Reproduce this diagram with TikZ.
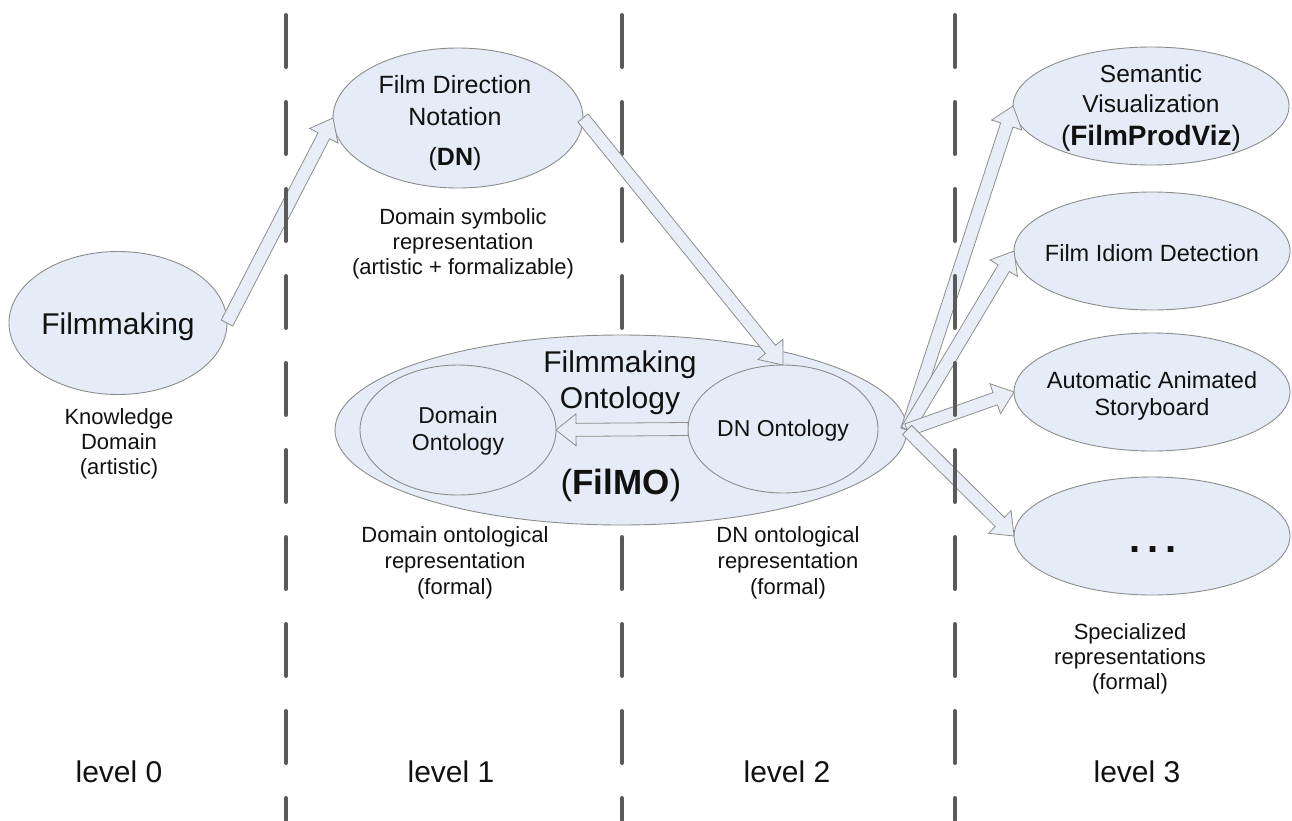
\documentclass[tikz,border=0pt]{standalone}
\usepackage{fontspec}
\setmainfont{Liberation Sans}
\usetikzlibrary{shapes.geometric,calc}

\definecolor{ellfill}{HTML}{E6ECF7}
\definecolor{ellline}{HTML}{8C8C8C}
\definecolor{arrfill}{HTML}{E8EDF8}
\definecolor{arrline}{HTML}{8E8E8E}
\definecolor{sepline}{HTML}{5A5A5A}
\definecolor{inktext}{HTML}{111111}

\newcommand{\fsz}[2]{\fontsize{#1}{#2}\selectfont}

% hollow block arrow from #1 to #2 (tip on #2)
\newcommand{\blockarr}[2]{%
  \coordinate (ahbase) at ($(#2)!20pt!(#1)$);
  \draw[blockarrow] ($(#1)!6.5pt!90:(#2)$) -- ($(ahbase)!6.5pt!-90:(#1)$)
    -- ($(ahbase)!16pt!-90:(#1)$) -- (#2) -- ($(ahbase)!16pt!90:(#1)$)
    -- ($(ahbase)!6.5pt!90:(#1)$) -- ($(#1)!6.5pt!-90:(#2)$) -- cycle;
}

\tikzset{
  bubble/.style={ellipse, draw=ellline, line width=0.9pt, fill=ellfill,
    inner sep=0pt, outer sep=0pt},
  lbl/.style={align=center, inner sep=0pt, text=inktext},
  sepdash/.style={draw=sepline, line width=4pt, line cap=round,
    dash pattern=on 52pt off 35pt},
  blockarrow/.style={draw=arrline, fill=arrfill, line width=0.8pt, line join=miter}
}

\begin{document}
\begin{tikzpicture}[x=1pt,y=-1pt]
\useasboundingbox (0,0) rectangle (1292,820);

% level separators
\coordinate (s2top) at (622,15);
\coordinate (s2bot) at (622,820);
\draw[sepdash] (s2top) -- (s2bot);

% knowledge levels
\node[bubble, minimum width=218pt, minimum height=143pt] (fm) at (118,323) {};
\node[bubble, minimum width=250pt, minimum height=140pt] (dn) at (458,118) {};
\node[bubble, minimum width=572pt, minimum height=190pt] (filmo) at (621,430) {};
\node[bubble, minimum width=196pt, minimum height=130pt] (dom) at (458,430) {};
\node[bubble, minimum width=190pt, minimum height=128pt] (dno) at (783,429) {};
\node[bubble, minimum width=276pt, minimum height=118pt] (sem) at (1151,106) {};
\node[bubble, minimum width=276pt, minimum height=118pt] (fid) at (1152,251) {};
\node[bubble, minimum width=276pt, minimum height=118pt] (aas) at (1152,392) {};
\node[bubble, minimum width=276pt, minimum height=118pt] (more) at (1152,536) {};

% texts inside the ellipses
\node[lbl, font=\fsz{30}{36}] (fmtext) at (118,327) {Filmmaking};
\node[lbl, font=\fsz{25}{32}] (dntext) at (455,123) {Film Direction\\Notation\\[8pt](\textbf{DN})};
\node[lbl, font=\fsz{30}{36}] (filmotext) at (620,383) {Filmmaking\\Ontology};
\node[lbl, font=\fsz{35}{40}] (filmoname) at (621,485) {(\textbf{FilMO})};
\node[lbl, font=\fsz{23}{27}] (domtext) at (458,431) {Domain\\Ontology};
\node[lbl, font=\fsz{23}{27}] (dnotext) at (783,431) {DN Ontology};
\node[lbl, font=\fsz{24.5}{30}] (semtext) at (1151,108) {Semantic\\Visualization\\[3pt]{\fsz{28}{30}(\textbf{FilmProdViz})}};
\node[lbl, font=\fsz{23.5}{28}] (fidtext) at (1152,253) {Film Idiom Detection};
\node[lbl, font=\fsz{23.5}{27}] (aastext) at (1152,396) {Automatic Animated\\Storyboard};
\node[lbl, font=\fsz{40}{40}\bfseries, anchor=base] (moretext) at (1153,552) {.\kern7pt.\kern7pt.};

% annotations under the ellipses
\node[lbl, font=\fsz{22}{25}] (fmnote) at (119,444) {Knowledge\\Domain\\(artistic)};
\node[lbl, font=\fsz{22}{25}] (dnnote) at (463,244) {Domain symbolic\\representation\\(artistic + formalizable)};
\node[lbl, font=\fsz{22}{26}] (domnote) at (455,563) {Domain ontological\\representation\\(formal)};
\node[lbl, font=\fsz{22}{26}] (dnonote) at (788,563) {DN ontological\\representation\\(formal)};
\node[lbl, font=\fsz{22}{25}] (specnote) at (1130,659) {Specialized\\representations\\(formal)};

% level names
\node[lbl, font=\fsz{30}{36}] (lv0) at (119,772) {level 0};
\node[lbl, font=\fsz{30}{36}] (lv1) at (451,772) {level 1};
\node[lbl, font=\fsz{30}{36}] (lv2) at (787,772) {level 2};
\node[lbl, font=\fsz{30}{36}] (lv3) at (1137,772) {level 3};

% transitions between representations
\blockarr{fm.east}{dn.west}
\blockarr{dn.east}{dno.north}
\blockarr{dno.west}{dom.east}
\blockarr{filmo.east}{sem.west}
\blockarr{filmo.east}{fid.west}
\blockarr{filmo.east}{aas.west}
\blockarr{filmo.east}{more.west}

% outer separators
\coordinate (s1top) at (286,15);
\coordinate (s1bot) at (286,820);
\coordinate (s3top) at (955,15);
\coordinate (s3bot) at (955,820);
\draw[sepdash] (s1top) -- (s1bot);
\draw[sepdash] (s3top) -- (s3bot);
\end{tikzpicture}
\end{document}
